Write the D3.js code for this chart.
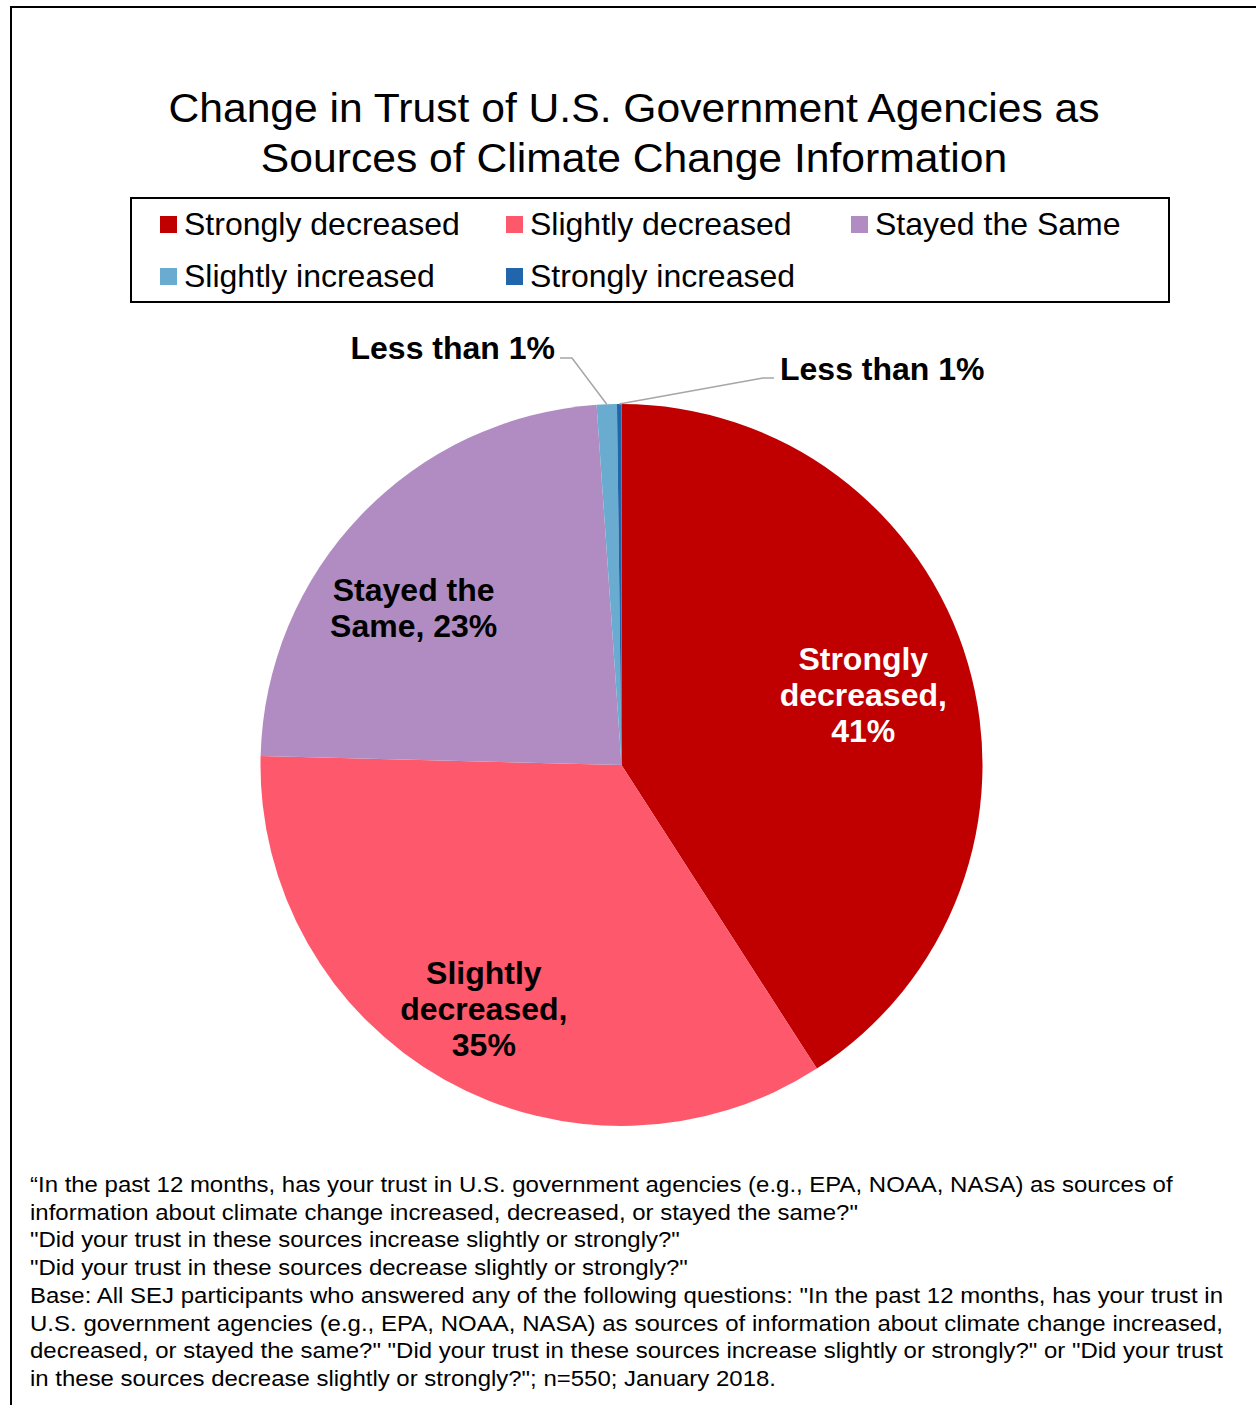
<!DOCTYPE html>
<html>
<head>
<meta charset="utf-8">
<script src="https://cdn.jsdelivr.net/npm/d3@7"></script>
<style>
  html, body { margin: 0; padding: 0; background: #fff; }
  svg { display: block; }
  text { font-family: Arial, "Liberation Sans", sans-serif; }
</style>
</head>
<body>
<svg id="chart" width="1256" height="1405"></svg>
<script>
// ---- Data ----
const categories = ["Strongly decreased", "Slightly decreased", "Stayed the Same", "Slightly increased", "Strongly increased"];
const values = [40.9, 34.5, 23.5, 0.9, 0.2];
const sliceLabels = [
  ["Strongly", "decreased,", "41%"],
  ["Slightly", "decreased,", "35%"],
  ["Stayed the", "Same, 23%"],
  ["Less than 1%"],
  ["Less than 1%"]
];
const titleLines = ["Change in Trust of U.S. Government Agencies as", "Sources of Climate Change Information"];
const footnoteLines = [
  "\u201CIn the past 12 months, has your trust in U.S. government agencies (e.g., EPA, NOAA, NASA) as sources of",
  "information about climate change increased, decreased, or stayed the same?\"",
  "\"Did your trust in these sources increase slightly or strongly?\"",
  "\"Did your trust in these sources decrease slightly or strongly?\"",
  "Base: All SEJ participants who answered any of the following questions: \"In the past 12 months, has your trust in",
  "U.S. government agencies (e.g., EPA, NOAA, NASA) as sources of information about climate change increased,",
  "decreased, or stayed the same?\" \"Did your trust in these sources increase slightly or strongly?\" or \"Did your trust",
  "in these sources decrease slightly or strongly?\"; n=550; January 2018."
];
const justifiedLines = [4, 5, 6];

// ---- Styles ----
const colors = ["#C00000", "#FD586B", "#B08CC2", "#6AACD0", "#2166AC"];
const labelColors = ["#FFFFFF", "#000000", "#000000", "#000000", "#000000"];

const svg = d3.select("#chart");
const W = 1256, H = 1405;

// frame (top + left edges visible)
svg.append("path")
  .attr("d", `M11,${H + 5} L11,7 L${W + 5},7`)
  .attr("fill", "none").attr("stroke", "#000").attr("stroke-width", 2);

// title
svg.append("g").selectAll("text").data(titleLines).join("text")
  .attr("transform", (d, i) => `translate(634,${122 + i * 50}) scale(1.04,1)`)
  .attr("text-anchor", "middle")
  .attr("font-size", 41).attr("fill", "#000")
  .text(d => d);

// legend
const legend = svg.append("g");
legend.append("rect").attr("x", 131).attr("y", 198).attr("width", 1038).attr("height", 104)
  .attr("fill", "none").attr("stroke", "#000").attr("stroke-width", 2);
const colX = [160, 506, 851];
const rowY = [216, 268];
const legItems = legend.selectAll("g.item").data(categories).join("g")
  .attr("class", "item")
  .attr("transform", (d, i) => `translate(${colX[i % 3]},${rowY[Math.floor(i / 3)]})`);
legItems.append("rect").attr("width", 17).attr("height", 17)
  .attr("fill", (d, i) => colors[i]);
legItems.append("text").attr("x", 24).attr("y", 19)
  .attr("font-size", 32).attr("fill", "#000").text(d => d);

// pie
const cx = 621.5, cy = 765, R = 361;
const pie = d3.pie().sort(null).value(d => d)(values);
const arc = d3.arc().innerRadius(0).outerRadius(R);
const g = svg.append("g").attr("transform", `translate(${cx},${cy})`);
g.selectAll("path.slice").data(pie).join("path")
  .attr("class", "slice")
  .attr("d", arc)
  .attr("fill", (d, i) => colors[i]);

// labels for the large slices
const labelArcs = [
  d3.arc().innerRadius(252).outerRadius(252),
  d3.arc().innerRadius(281).outerRadius(281),
  d3.arc().innerRadius(260).outerRadius(260)
];
const labelShift = [[0, 1], [0, -1], [-20, 23]];
const lineH = 36;
pie.slice(0, 3).forEach((p, i) => {
  const [lx, ly] = labelArcs[i].centroid(p);
  const lines = sliceLabels[i];
  const x0 = lx + labelShift[i][0];
  const y0 = ly + labelShift[i][1] - (lines.length - 1) * lineH / 2 + 11;
  const t = g.append("text").attr("text-anchor", "middle")
    .attr("font-size", 32).attr("font-weight", "bold").attr("fill", labelColors[i]);
  lines.forEach((ln, k) => {
    t.append("tspan").attr("x", x0).attr("y", y0 + k * lineH).text(ln);
  });
});

// outside labels with leader lines for the tiny slices
const edgeArc = d3.arc().innerRadius(R).outerRadius(R);
const outside = [
  { i: 3, elbow: [572 - cx, 358 - cy], end: [560 - cx, 358 - cy], tx: 555 - cx, ty: 359 - cy, anchor: "end" },
  { i: 4, elbow: [763 - cx, 378 - cy], end: [774 - cx, 378 - cy], tx: 780 - cx, ty: 380 - cy, anchor: "start" }
];
outside.forEach(o => {
  const [ax, ay] = edgeArc.centroid(pie[o.i]);
  g.append("polyline")
    .attr("points", [[ax, ay], o.elbow, o.end].map(p => p.join(",")).join(" "))
    .attr("fill", "none").attr("stroke", "#A6A6A6").attr("stroke-width", 1.5);
  g.append("text").attr("x", o.tx).attr("y", o.ty)
    .attr("text-anchor", o.anchor)
    .attr("font-size", 32).attr("font-weight", "bold").attr("fill", labelColors[o.i])
    .text(sliceLabels[o.i][0]);
});

// footnote
const fn = svg.append("g");
const fnX = 30, fnRight = 1223, fnScale = 1.09;
footnoteLines.forEach((ln, i) => {
  const t = fn.append("text")
    .attr("transform", `translate(${fnX},${1192 + i * 27.7}) scale(${fnScale},1)`)
    .attr("font-size", 22).attr("fill", "#000").text(ln);
  if (justifiedLines.includes(i)) {
    const natural = t.node().getComputedTextLength();
    const spaces = (ln.match(/ /g) || []).length;
    const ws = ((fnRight - fnX) / fnScale - natural) / spaces;
    t.style("word-spacing", ws + "px");
  }
});
</script>
</body>
</html>
